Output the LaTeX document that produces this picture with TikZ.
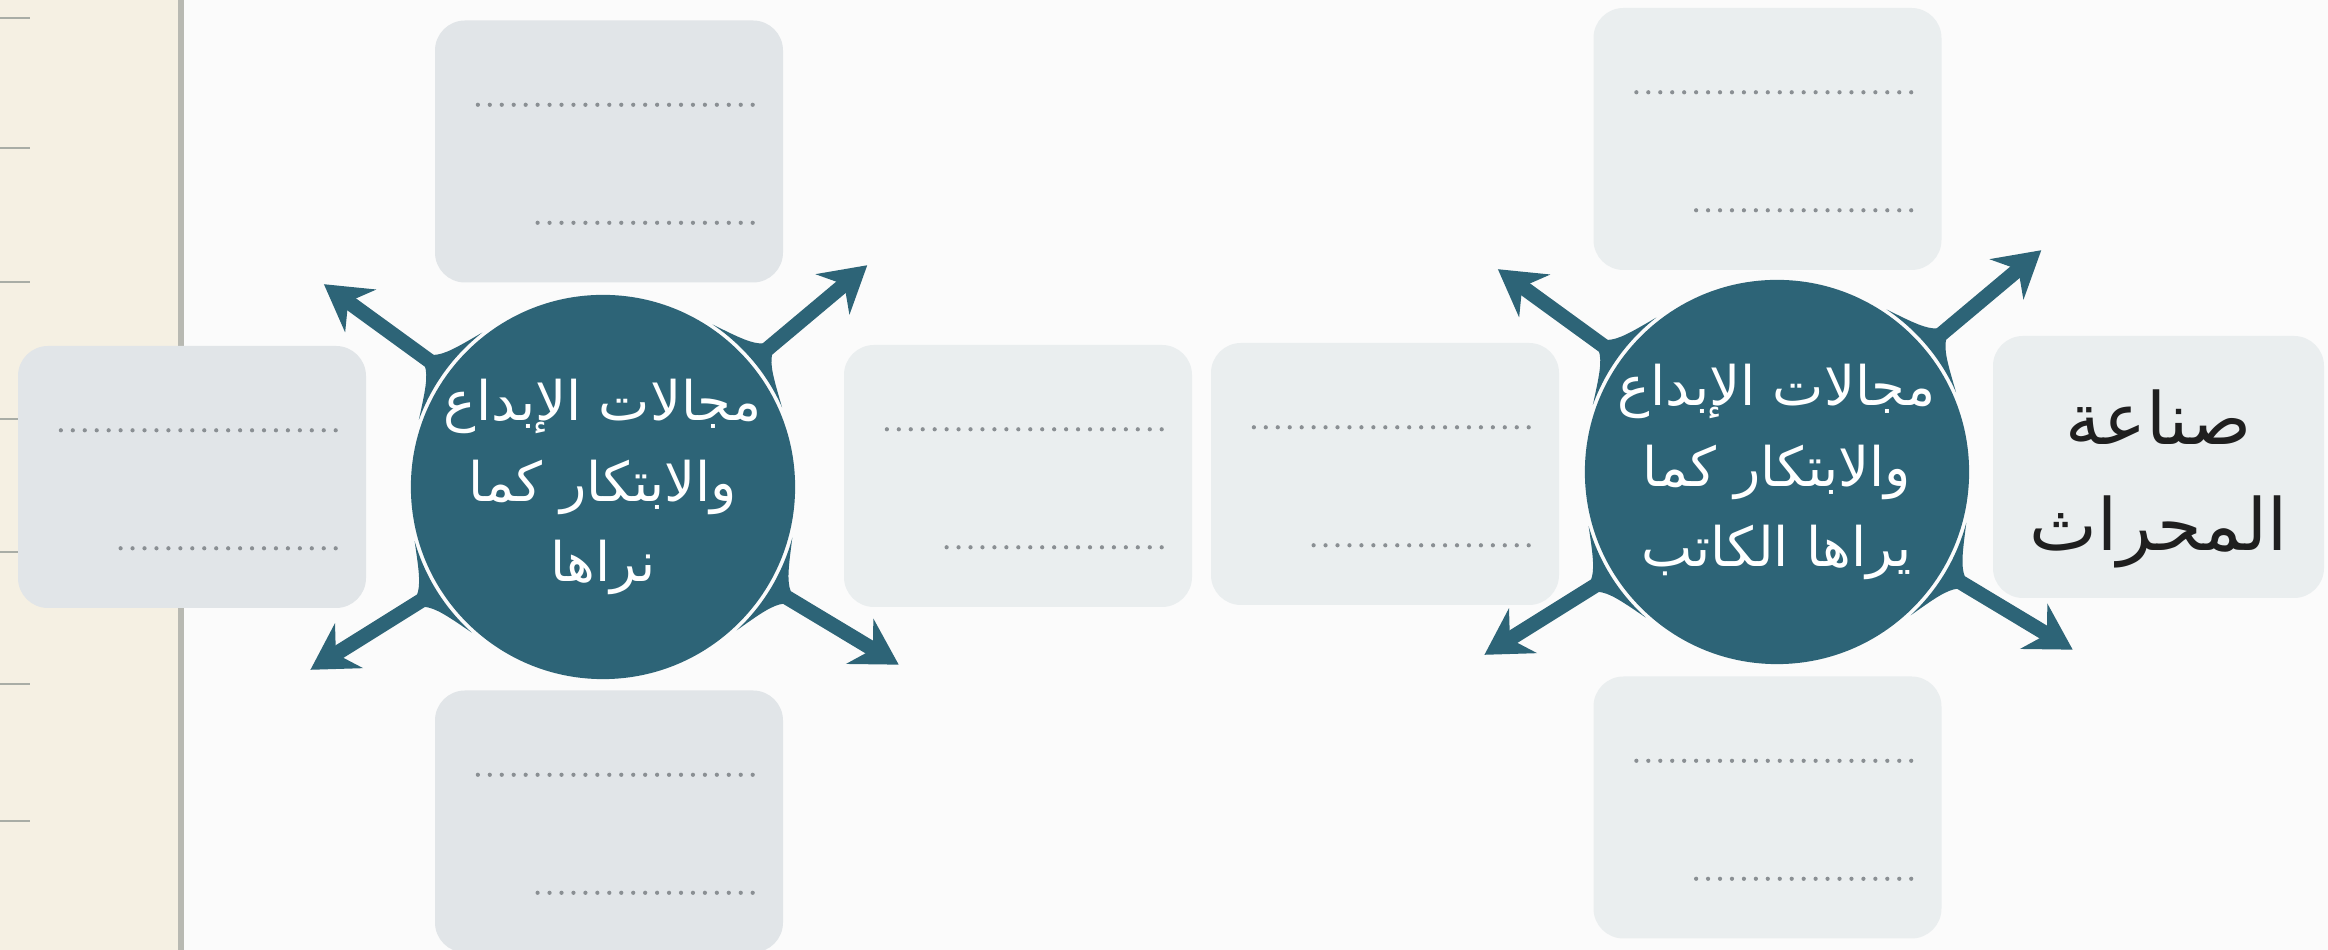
\documentclass[tikz,border=0pt]{standalone}
\usepackage{fontspec}
\usepackage{tikz}
\usetikzlibrary{arrows.meta,calc}
\newfontfamily\arabicfont[Script=Arabic]{DejaVu Sans}
\TeXXeTstate=1
\definecolor{sheet}{HTML}{FBFBFB}
\definecolor{paper}{HTML}{F5F0E3}
\definecolor{spine}{HTML}{B8B9B2}
\definecolor{tick}{HTML}{A9ADA6}
\definecolor{ink}{HTML}{2D6477}
\definecolor{cardL}{HTML}{E1E5E8}
\definecolor{cardR}{HTML}{EAEEEF}
\definecolor{dots}{HTML}{8A8F93}

\begin{document}
\begin{tikzpicture}[
    card/.style={rounded corners=0.3cm, minimum width=3.48cm, minimum height=2.62cm, inner sep=0pt},
    hub/.style={circle, fill=ink, minimum size=3.8cm, inner sep=0pt, align=center,
      text=white, font=\arabicfont\fontsize{15.5}{22.8}\selectfont},
    topic/.style={align=center, text=black!88, font=\arabicfont\fontsize{20.5}{30}\selectfont},
    blank/.style={draw=dots, line width=1.2pt, line cap=round, dash pattern=on 0pt off 3.4pt},
    spoke/.style={draw=ink, line width=4.2pt, shorten <=0.15cm,
      -{Stealth[length=0.45cm, width=0.52cm, inset=0.15cm]}},
  ]
  \useasboundingbox (0,0) rectangle (23.28,9.50);

  % Page and binding strip
  \fill[sheet] (0,0) rectangle (23.28,9.50);
  \fill[paper] (0,0) rectangle (1.79,9.50);
  \draw[spine, line width=0.06cm] (1.81,0) -- (1.81,9.50);
  \foreach \y in {9.32,8.02,6.68,5.31,3.98,2.66,1.29}
    \draw[tick, line width=0.6pt] (0,\y) -- (0.30,\y);

  % Answer cards with two dotted lines each
  \foreach \nm/\x/\y/\col in {farL/1.92/4.73/cardL, topL/6.09/7.985/cardL,
      botL/6.09/1.285/cardL, midA/10.18/4.74/cardR, midB/13.85/4.76/cardR,
      topR/17.675/8.11/cardR, botR/17.675/1.425/cardR}
  {
    \node[card, fill=\col] (\nm) at (\x,\y) {};
    \draw[blank] ([xshift=-0.31cm, yshift=-0.85cm]\nm.north east) -- ++(-2.78,0);
    \draw[blank] ([xshift=-0.31cm, yshift=-2.03cm]\nm.north east) -- ++(-2.26,0);
  }

  % Story card
  \node[card, fill=cardR, minimum width=3.31cm] (plough) at (21.585,4.83) {};
  \node[topic] (plough-name) at ([yshift=-0.12cm]plough.center)
    {\beginR صناعة\endR\\\beginR المحراث\endR};

  % Hubs
  \node[hub] (lc) at (6.03,4.63)
    {\beginR مجالات الإبداع\endR\\\beginR والابتكار كما\endR\\\beginR نراها\endR};
  \node[hub] (rc) at (17.77,4.78)
    {\beginR مجالات الإبداع\endR\\\beginR والابتكار كما\endR\\\beginR يراها الكاتب\endR};

  % Flared arrows out of each hub
  \foreach \c in {lc,rc}
    \foreach \a/\t in {144/nw, 40/ne, 212/sw, -31/se}
    {
      \coordinate (\c-\t) at ($(\c)+(\a:3.45)$);
      \fill[ink] ($(\c)+(\a+16:1.96)$) .. controls ($(\c)+(\a:2.12)$) .. ($(\c)+(\a:2.62)$)
        .. controls ($(\c)+(\a:2.12)$) .. ($(\c)+(\a-16:1.96)$)
        arc[start angle=\a-16, end angle=\a+16, radius=1.96cm];
      \draw[spoke] (\c.\a) -- (\c-\t);
    }
\end{tikzpicture}
\end{document}
